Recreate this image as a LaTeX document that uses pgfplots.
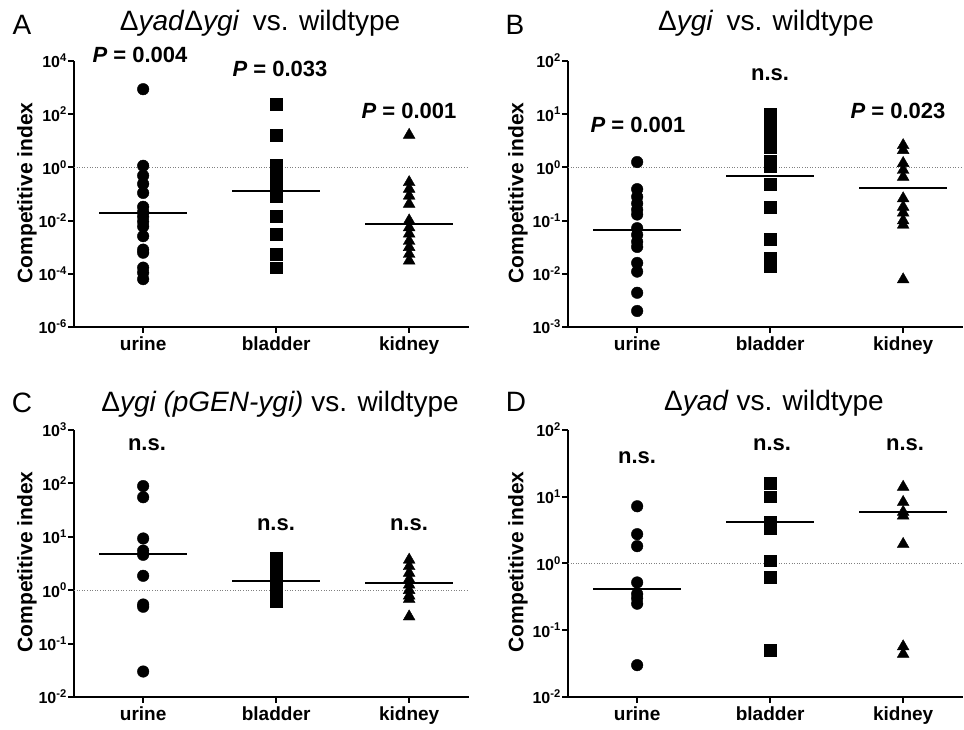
\documentclass[border=0pt]{standalone}
\usepackage{fontspec}
\setmainfont{Liberation Sans}
\usepackage{pgfplots}
\pgfplotsset{compat=1.18}

\newcommand{\fs}[1]{\fontsize{#1}{#1}\selectfont}

\pgfplotsset{
  prismaxis/.style={
    scale only axis, width=395pt,
    xmin=-0.52, xmax=2.45,
    axis x line=bottom, axis y line=left,
    axis line style={-, line width=2pt},
    tick style={black, line width=2pt},
    major tick length=6pt,
    tick align=outside,
    xtick={0,1,2}, xticklabels={urine,bladder,kidney},
    xticklabel style={font=\bfseries\fs{19}},
    yticklabel style={font=\bfseries\fs{16}, inner sep=1pt},
    yminorticks=false,
    clip=false,
  },
  circ/.style={only marks, mark=*, mark size=5.8pt, black},
  sq/.style={only marks, mark=square*, mark size=5.9pt, black},
  tri/.style={only marks, mark=triangle*, mark size=6.8pt, black},
  meanline/.style={black, line width=2pt, no marks},
  unity/.style={gray, dash pattern=on 1pt off 1.6pt, line width=1pt, no marks},
}

\begin{document}
\begin{tikzpicture}

% ---------- A ----------
\begin{axis}[ymode=log, prismaxis, height=266pt, at={(74pt,403pt)}, anchor=south west,
  ymin=1e-6, ymax=1e4,
  ytick={1e-6,1e-4,1e-2,1,1e2,1e4},
  yticklabels={10\textsuperscript{-6},10\textsuperscript{-4},10\textsuperscript{-2},10\textsuperscript{0},10\textsuperscript{2},10\textsuperscript{4}}]
  \addplot[unity] coordinates {(-0.52,1) (2.45,1)};
  \addplot[circ] coordinates {(0,870) (0,1.15) (0,0.49) (0,0.24) (0,0.11) (0,0.033)
    (0,0.021) (0,0.014) (0,0.0091) (0,0.006) (0,0.0026) (0,0.00081) (0,0.00062)
    (0,0.00017) (0,0.00011) (0,0.000063)};
  \addplot[sq] coordinates {(1,240) (1,16.5) (1,1.23) (1,0.46) (1,0.20) (1,0.081)
    (1,0.015) (1,0.0031) (1,0.00055) (1,0.00017)};
  \addplot[tri] coordinates {(2,16.5) (2,0.275) (2,0.155) (2,0.085) (2,0.042) (2,0.01)
    (2,0.0055) (2,0.0032) (2,0.0017) (2,0.001) (2,0.00055) (2,0.00031)};
  \addplot[meanline] coordinates {(-0.33,0.02) (0.33,0.02)};
  \addplot[meanline] coordinates {(0.67,0.126) (1.33,0.126)};
  \addplot[meanline] coordinates {(1.67,0.0074) (2.33,0.0074)};
\end{axis}

% ---------- B ----------
\begin{axis}[ymode=log, prismaxis, height=266pt, at={(568pt,403pt)}, anchor=south west,
  ymin=1e-3, ymax=1e2,
  ytick={1e-3,1e-2,1e-1,1,1e1,1e2},
  yticklabels={10\textsuperscript{-3},10\textsuperscript{-2},10\textsuperscript{-1},10\textsuperscript{0},10\textsuperscript{1},10\textsuperscript{2}}]
  \addplot[unity] coordinates {(-0.52,1) (2.45,1)};
  \addplot[circ] coordinates {(0,1.26) (0,0.39) (0,0.28) (0,0.21) (0,0.16) (0,0.13)
    (0,0.072) (0,0.054) (0,0.040) (0,0.032) (0,0.016) (0,0.011) (0,0.0044) (0,0.002)};
  \addplot[sq] coordinates {(1,10) (1,7.1) (1,5.0) (1,3.5) (1,2.4) (1,1.32) (1,1.05)
    (1,0.48) (1,0.18) (1,0.044) (1,0.02) (1,0.014)};
  \addplot[tri] coordinates {(2,2.6) (2,2.1) (2,1.2) (2,0.89) (2,0.66) (2,0.26) (2,0.18)
    (2,0.14) (2,0.10) (2,0.083) (2,0.0078)};
  \addplot[meanline] coordinates {(-0.33,0.068) (0.33,0.068)};
  \addplot[meanline] coordinates {(0.67,0.69) (1.33,0.69)};
  \addplot[meanline] coordinates {(1.67,0.41) (2.33,0.41)};
\end{axis}

% ---------- C ----------
\begin{axis}[ymode=log, prismaxis, height=267pt, at={(74pt,33pt)}, anchor=south west,
  ymin=1e-2, ymax=1e3,
  ytick={1e-2,1e-1,1,1e1,1e2,1e3},
  yticklabels={10\textsuperscript{-2},10\textsuperscript{-1},10\textsuperscript{0},10\textsuperscript{1},10\textsuperscript{2},10\textsuperscript{3}}]
  \addplot[unity] coordinates {(-0.52,1) (2.45,1)};
  \addplot[circ] coordinates {(0,89) (0,55) (0,9.3) (0,5.5) (0,4.6) (0,1.86) (0,0.54)
    (0,0.49) (0,0.030)};
  \addplot[sq] coordinates {(1,4.0) (1,2.95) (1,2.2) (1,1.58) (1,1.17) (1,0.87) (1,0.62)};
  \addplot[tri] coordinates {(2,3.7) (2,2.8) (2,2.1) (2,1.6) (2,1.26) (2,1.0) (2,0.79)
    (2,0.68) (2,0.32)};
  \addplot[meanline] coordinates {(-0.33,4.7) (0.33,4.7)};
  \addplot[meanline] coordinates {(0.67,1.48) (1.33,1.48)};
  \addplot[meanline] coordinates {(1.67,1.38) (2.33,1.38)};
\end{axis}

% ---------- D ----------
\begin{axis}[ymode=log, prismaxis, height=267pt, at={(568pt,33pt)}, anchor=south west,
  ymin=1e-2, ymax=1e2,
  ytick={1e-2,1e-1,1,1e1,1e2},
  yticklabels={10\textsuperscript{-2},10\textsuperscript{-1},10\textsuperscript{0},10\textsuperscript{1},10\textsuperscript{2}}]
  \addplot[unity] coordinates {(-0.52,1) (2.45,1)};
  \addplot[circ] coordinates {(0,7.2) (0,2.75) (0,1.82) (0,0.52) (0,0.35) (0,0.30)
    (0,0.25) (0,0.030)};
  \addplot[sq] coordinates {(1,15.8) (1,10) (1,4.2) (1,3.4) (1,1.1) (1,0.63) (1,0.05)};
  \addplot[tri] coordinates {(2,14) (2,8.3) (2,5.9) (2,5.2) (2,1.95) (2,0.057) (2,0.044)};
  \addplot[meanline] coordinates {(-0.33,0.41) (0.33,0.41)};
  \addplot[meanline] coordinates {(0.67,4.2) (1.33,4.2)};
  \addplot[meanline] coordinates {(1.67,5.9) (2.33,5.9)};
\end{axis}

% panel letters and titles
\node[anchor=base, font=\fs{28}] at (22pt,695pt) {A};
\node[anchor=base, font=\fs{28}] at (515pt,695pt) {B};
\node[anchor=base, font=\fs{28}] at (22pt,317pt) {C};
\node[anchor=base, font=\fs{28}] at (516pt,318pt) {D};
\node[anchor=base, font=\fs{28}] at (260pt,699pt) {Δ\textit{yad}Δ\textit{ygi}\hspace{0.2em} vs. wildtype};
\node[anchor=base, font=\fs{28}] at (766pt,699pt) {Δ\textit{ygi}\hspace{0.2em} vs. wildtype};
\node[anchor=base, font=\fs{28}] at (280pt,318pt) {Δ\textit{ygi (pGEN-ygi)} vs. wildtype};
\node[anchor=base, font=\fs{28}] at (774pt,319pt) {Δ\textit{yad} vs. wildtype};

% y labels
\node[rotate=90, font=\bfseries\fs{21}] at (27pt,537pt) {Competitive index};
\node[rotate=90, font=\bfseries\fs{21}] at (518pt,537pt) {Competitive index};
\node[rotate=90, font=\bfseries\fs{21}] at (27pt,168pt) {Competitive index};
\node[rotate=90, font=\bfseries\fs{21}] at (518pt,168pt) {Competitive index};

% significance labels
\node[anchor=base, font=\bfseries\fs{22}] at (140pt,667pt) {\textit{P} = 0.004};
\node[anchor=base, font=\bfseries\fs{22}] at (280pt,653pt) {\textit{P} = 0.033};
\node[anchor=base, font=\bfseries\fs{22}] at (409pt,611pt) {\textit{P} = 0.001};
\node[anchor=base, font=\bfseries\fs{22}] at (638pt,597pt) {\textit{P} = 0.001};
\node[anchor=base, font=\bfseries\fs{22}] at (770pt,649pt) {n.s.};
\node[anchor=base, font=\bfseries\fs{22}] at (898pt,611pt) {\textit{P} = 0.023};
\node[anchor=base, font=\bfseries\fs{22}] at (147pt,279pt) {n.s.};
\node[anchor=base, font=\bfseries\fs{22}] at (276pt,199pt) {n.s.};
\node[anchor=base, font=\bfseries\fs{22}] at (409pt,199pt) {n.s.};
\node[anchor=base, font=\bfseries\fs{22}] at (637pt,266pt) {n.s.};
\node[anchor=base, font=\bfseries\fs{22}] at (772pt,279pt) {n.s.};
\node[anchor=base, font=\bfseries\fs{22}] at (905pt,279pt) {n.s.};

\pgfresetboundingbox
\path[use as bounding box] (0,0) rectangle (964pt,730pt);
\end{tikzpicture}
\end{document}
